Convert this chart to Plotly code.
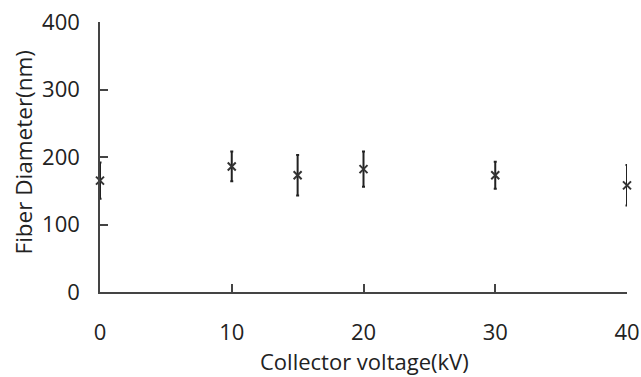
import plotly.graph_objects as go

voltage = [0, 10, 15, 20, 30, 40]
diameter = [165, 186, 173, 182, 173, 158]
error = [27, 22, 30, 26, 20, 30]
x_ticks = [0, 10, 20, 30, 40]
y_ticks = [0, 100, 200, 300, 400]
x_title = "Collector voltage(kV)"
y_title = "Fiber Diameter(nm)"

fig = go.Figure()
fig.add_trace(go.Scatter(
    x=voltage, y=diameter, mode="markers",
    marker=dict(symbol="x-thin", size=8, line=dict(width=2, color="#333333"), color="#333333"),
    error_y=dict(type="data", array=error, visible=True, color="#222222", thickness=2, width=1.5),
    cliponaxis=False, showlegend=False,
))

fam = "Open Sans, Noto Sans, sans-serif"
tick_font = dict(family=fam, size=22, color="#222222")
fig.update_layout(
    width=641, height=377,
    margin=dict(l=100, r=14, t=22, b=85),
    plot_bgcolor="white", paper_bgcolor="white",
    font=tick_font,
    annotations=[
        dict(text=x_title, xref="paper", yref="paper", x=0.502, y=0,
             yshift=-69, xanchor="center", yanchor="middle", showarrow=False,
             font=dict(family=fam, size=22, color="#222222")),
        dict(text=y_title, xref="paper", yref="paper", x=-0.146, y=0.517,
             xanchor="center", yanchor="middle", showarrow=False, textangle=-90,
             font=dict(family=fam, size=22.5, color="#222222")),
    ],
)
fig.update_xaxes(
    range=[0, 40], tickvals=x_ticks, showgrid=False, zeroline=False,
    showline=True, linecolor="#444444", linewidth=1.5,
    ticks="inside", ticklen=8, tickwidth=1.5, tickcolor="#444444",
    ticklabelstandoff=20, automargin=False, tickfont=tick_font,
)
fig.update_yaxes(
    range=[0, 400], tickvals=y_ticks, showgrid=False, zeroline=False,
    showline=True, linecolor="#444444", linewidth=1.5,
    ticks="inside", ticklen=8, tickwidth=1.5, tickcolor="#444444",
    ticklabelstandoff=14, automargin=False, tickfont=tick_font,
)
fig.write_html("out.html")
